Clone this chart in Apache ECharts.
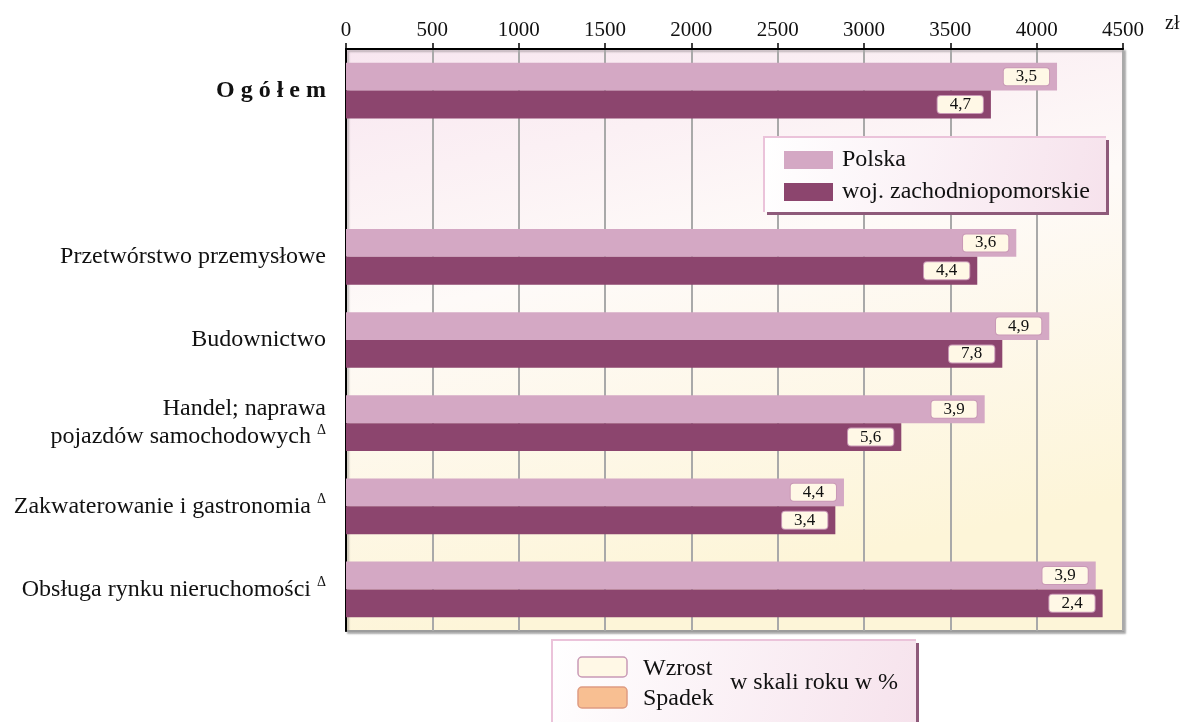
<!DOCTYPE html>
<html>
<head>
<meta charset="utf-8">
<script src="https://cdn.jsdelivr.net/npm/echarts@6/dist/echarts.min.js"></script>
<style>
  html, body { margin: 0; padding: 0; background: #fff; }
  #chart { width: 1184px; height: 722px; }
</style>
</head>
<body>
<div id="chart"></div>
<script>
// Przeciętne miesięczne wynagrodzenie brutto (zł) według sekcji
const categories = [
  'Ogółem',
  '',
  'Przetwórstwo przemysłowe',
  'Budownictwo',
  'Handel; naprawa\npojazdów samochodowych Δ',
  'Zakwaterowanie i gastronomia Δ',
  'Obsługa rynku nieruchomości Δ'
];
const polska =              [4118, null, 3882, 4073, 3699, 2884, 4342];
const zachodniopomorskie =  [3735, null, 3656, 3801, 3216, 2834, 4382];
// dynamika w skali roku, %
const polskaGrowth =        [3.5, null, 3.6, 4.9, 3.9, 4.4, 3.9];
const zachodniopomorskieGrowth = [4.7, null, 4.4, 7.8, 5.6, 3.4, 2.4];

const axisMin = 0, axisMax = 4500, axisStep = 500;

const SERIF = '"Liberation Serif", "DejaVu Serif", serif';
const WZROST_FILL = '#FFF8E6', WZROST_STROKE = '#C999B6';
const SPADEK_FILL = '#F8BF92', SPADEK_STROKE = '#DE9C82';
const BOX_EDGE = '#EBC3DA', BOX_SHADOW = '#8E5A7A';

function fmtPct(v) { return v.toFixed(1).replace('.', ','); }

function buildData(values, growth) {
  return values.map((v, i) => {
    if (v == null) return '-';
    const g = growth[i];
    const up = g >= 0;
    return {
      value: v,
      growth: g,
      label: {
        backgroundColor: up ? WZROST_FILL : SPADEK_FILL,
        borderColor: up ? WZROST_STROKE : SPADEK_STROKE
      }
    };
  });
}

// framed box: pale gradient fill, pink top/left edge, plum right/bottom edge
function framedBox(x, y, w, h) {
  return [
    {
      type: 'rect', z: 3,
      shape: { x: x + 3, y: y + 3, width: w, height: h },
      style: { fill: BOX_SHADOW }
    },
    {
      type: 'rect', z: 3,
      shape: { x: x, y: y, width: w, height: h },
      style: {
        fill: {
          type: 'linear', x: 0, y: 0, x2: 1, y2: 1,
          colorStops: [
            { offset: 0, color: '#FFFFFF' },
            { offset: 1, color: '#F6E2EC' }
          ]
        }
      }
    },
    {
      type: 'polyline', z: 3,
      shape: { points: [[x, y + h], [x, y], [x + w, y]] },
      style: { stroke: BOX_EDGE, lineWidth: 2, fill: null }
    }
  ];
}

const barLabel = {
  show: true,
  position: 'insideRight',
  distance: 8,
  formatter: p => fmtPct(p.data.growth),
  fontFamily: SERIF,
  fontSize: 17,
  color: '#111',
  borderWidth: 1,
  borderRadius: 3,
  padding: [0, 12, 0, 12],
  lineHeight: 17
};

const chart = echarts.init(document.getElementById('chart'), null, { renderer: 'canvas' });

chart.setOption({
  backgroundColor: '#ffffff',
  animation: false,
  grid: {
    left: 346, right: 61, top: 49, bottom: 91,
    show: true,
    backgroundColor: {
      type: 'linear', x: 0, y: 0, x2: 0.15, y2: 1,
      colorStops: [
        { offset: 0, color: '#F8E6F0' },
        { offset: 0.45, color: '#FEFAF8' },
        { offset: 1, color: '#FDF5D8' }
      ]
    },
    borderColor: '#9C9C9C',
    borderWidth: 2,
    shadowColor: 'rgba(0,0,0,0.25)',
    shadowOffsetX: 2,
    shadowOffsetY: 2,
    shadowBlur: 2
  },
  legend: {
    orient: 'vertical',
    left: 764,
    top: 137,
    padding: [11, 18, 13, 20],
    itemWidth: 49,
    itemHeight: 18,
    itemGap: 8,
    icon: 'rect',
    textStyle: { fontFamily: SERIF, fontSize: 24, color: '#111', padding: [0, 0, 0, 4] },
    data: ['Polska', 'woj. zachodniopomorskie']
  },
  xAxis: {
    type: 'value',
    position: 'top',
    min: axisMin,
    max: axisMax,
    interval: axisStep,
    axisLine: { show: true, lineStyle: { color: '#000', width: 2 } },
    axisTick: { show: true, length: 6, lineStyle: { color: '#000', width: 1.5 } },
    axisLabel: {
      margin: 8,
      fontFamily: SERIF,
      fontSize: 21,
      color: '#111',
      formatter: v => String(v)
    },
    splitLine: { show: true, lineStyle: { color: '#A9A9A9', width: 2 } }
  },
  yAxis: {
    type: 'category',
    inverse: true,
    data: categories,
    axisLine: { show: true, lineStyle: { color: '#000', width: 2 } },
    axisTick: { show: false },
    axisLabel: {
      margin: 20,
      fontFamily: SERIF,
      fontSize: 24,
      color: '#111',
      lineHeight: 28,
      align: 'right',
      formatter: v => {
        if (v === 'Ogółem') return '{b|' + v.split('').join(' ') + '}';
        return v.split('\n').map(line =>
          line.endsWith(' Δ') ? line.slice(0, -2) + ' {sup|Δ}' : line
        ).join('\n');
      },
      rich: {
        b: { fontFamily: SERIF, fontSize: 24, fontWeight: 'bold', color: '#111' },
        sup: { fontFamily: SERIF, fontSize: 14, color: '#111', verticalAlign: 'top', lineHeight: 20 }
      }
    }
  },
  series: [
    {
      name: 'Polska',
      type: 'bar',
      data: buildData(polska, polskaGrowth),
      itemStyle: { color: '#D4A8C4' },
      barGap: '0%',
      barCategoryGap: '33%',
      label: barLabel
    },
    {
      name: 'woj. zachodniopomorskie',
      type: 'bar',
      data: buildData(zachodniopomorskie, zachodniopomorskieGrowth),
      itemStyle: { color: '#8C456E' },
      barGap: '0%',
      barCategoryGap: '33%',
      label: barLabel
    }
  ],
  graphic: [
    {
      type: 'text',
      left: 1165,
      top: 14,
      style: { text: 'zł', fontFamily: SERIF, fontSize: 20, fill: '#111' }
    },
    // frame behind the series legend
    ...framedBox(764, 137, 342, 75),
    // growth / decline key below the plot
    ...framedBox(552, 640, 364, 100),
    {
      type: 'rect', z: 4,
      shape: { x: 578, y: 657, width: 49, height: 20, r: 4 },
      style: { fill: WZROST_FILL, stroke: WZROST_STROKE, lineWidth: 1.5 }
    },
    {
      type: 'rect', z: 4,
      shape: { x: 578, y: 687, width: 49, height: 21, r: 4 },
      style: { fill: SPADEK_FILL, stroke: SPADEK_STROKE, lineWidth: 1.5 }
    },
    {
      type: 'text', z: 4,
      x: 643, y: 669,
      style: { text: 'Wzrost', fontFamily: SERIF, fontSize: 24, fill: '#111', verticalAlign: 'middle' }
    },
    {
      type: 'text', z: 4,
      x: 643, y: 699,
      style: { text: 'Spadek', fontFamily: SERIF, fontSize: 24, fill: '#111', verticalAlign: 'middle' }
    },
    {
      type: 'text', z: 4,
      x: 730, y: 683,
      style: { text: 'w skali roku w %', fontFamily: SERIF, fontSize: 24, fill: '#111', verticalAlign: 'middle' }
    }
  ]
});
</script>
</body>
</html>
